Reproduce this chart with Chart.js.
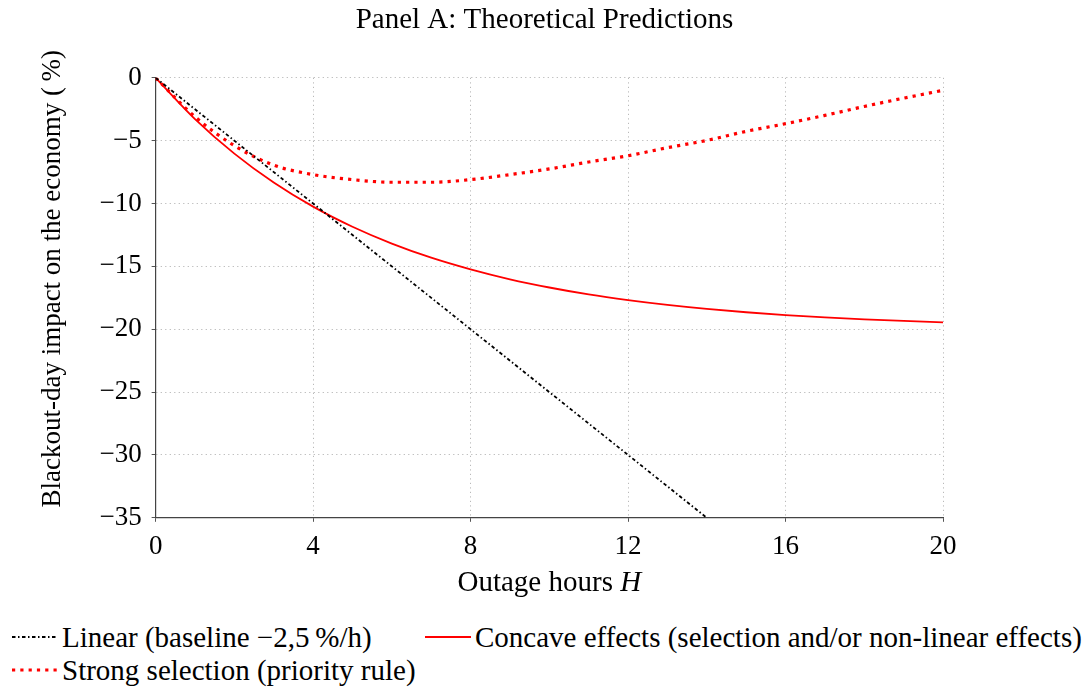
<!DOCTYPE html>
<html>
<head>
<meta charset="utf-8">
<script src="https://cdn.jsdelivr.net/npm/chart.js@4/dist/chart.umd.min.js"></script>
<style>
  html, body { margin: 0; padding: 0; background: #fff; }
  body { width: 1089px; height: 692px; position: relative; overflow: hidden;
         font-family: 'Liberation Serif', 'DejaVu Serif', serif; }
  #wrap { position: absolute; left: 0; top: 0; width: 1089px; height: 612px; }
  .legend-row { position: absolute; left: 0; height: 30px; font-size: 29px;
                color: #000; line-height: 30px; white-space: nowrap; }
  .item { position: absolute; top: 0; display: flex; align-items: center; }
  .item svg { margin-right: 4px; }
</style>
</head>
<body>
<div id="wrap"><canvas id="chart"></canvas></div>
<div id="legend"></div>
<script>
// outage hours
let hours = [0, 1, 2, 3, 4, 5, 6, 7, 8, 9, 10, 11, 12, 13, 14, 15, 16, 17, 18, 19, 20];
let linearHours = [0, 14];
let linearVals = [0, -35];
let concaveVals = [0, -3.28, -6.03, -8.33, -10.25, -11.85, -13.19, -14.31, -15.24, -16.03, -16.68,
  -17.23, -17.68, -18.06, -18.38, -18.65, -18.87, -19.06, -19.21, -19.34, -19.45];
let strongVals = [0, -3.1, -5.4, -6.95, -7.7, -8.1, -8.31, -8.31, -8.1, -7.7, -7.25,
  -6.7, -6.2, -5.56, -4.98, -4.26, -3.65, -2.99, -2.28, -1.62, -1.0];
let xTicks = [0, 4, 8, 12, 16, 20];
let yTicks = [0, -5, -10, -15, -20, -25, -30, -35];
let seriesNames = ['Linear (baseline \u22122,5\u2009%/h)',
  'Concave effects (selection and/or non-linear effects)',
  'Strong selection (priority rule)'];
let titleText = 'Panel A: Theoretical Predictions';
let yTitle = 'Blackout-day impact on the economy (\u2009%)';

function pts(xs, ys) {
  return xs.map(function (x, i) { return { x: x, y: ys[i] }; });
}

let serif = "'Liberation Serif', 'DejaVu Serif', serif";
Chart.defaults.font.family = serif;
Chart.defaults.color = '#000';

let fsTick = 27;
let fsTitle = 29;
let fsY = 27;

// the texts are drawn here so that they sit where the original puts them
let texts = {
  id: 'texts',
  afterDraw: function (c) {
    let g = c.ctx;
    let area = c.chartArea;
    g.save();
    g.fillStyle = '#000';
    g.textBaseline = 'middle';
    g.textAlign = 'center';

    // main title, centred on the page
    g.font = fsTitle + 'px ' + serif;
    let tb = c.titleBlock;
    g.fillText(titleText, c.width / 2, tb.top + fsTitle * 0.6);

    // x title with italic H
    let xs = c.scales.x;
    let cx = (area.left + area.right) / 2;
    let cy = xs.bottom - 29;
    let a = 'Outage hours ';
    let wa = g.measureText(a).width;
    g.font = 'italic ' + fsTitle + 'px ' + serif;
    let wb = g.measureText('H').width;
    let x0 = cx - (wa + wb) / 2;
    g.textAlign = 'left';
    g.font = fsTitle + 'px ' + serif;
    g.fillText(a, x0, cy);
    g.font = 'italic ' + fsTitle + 'px ' + serif;
    g.fillText('H', x0 + wa, cy);

    // y title
    let ys = c.scales.y;
    g.font = fsY + 'px ' + serif;
    g.textAlign = 'center';
    g.translate(ys.left + fsY * 0.6, (area.top + area.bottom) / 2 - 19);
    g.rotate(-Math.PI / 2);
    g.fillText(yTitle, 0, 0);
    g.restore();
  }
};

let chart = new Chart(document.getElementById('chart'), {
  type: 'line',
  data: {
    datasets: [
      {
        label: seriesNames[0],
        data: pts(linearHours, linearVals),
        borderColor: '#000',
        borderWidth: 1.8,
        borderDash: [3.5, 2.5, 1.5, 2.5],
        pointRadius: 0,
        tension: 0
      },
      {
        label: seriesNames[1],
        data: pts(hours, concaveVals),
        borderColor: '#ff0000',
        borderWidth: 1.8,
        pointRadius: 0,
        cubicInterpolationMode: 'monotone'
      },
      {
        label: seriesNames[2],
        data: pts(hours, strongVals),
        borderColor: '#ff0000',
        borderWidth: 3.2,
        borderDash: [3.2, 5.1],
        pointRadius: 0,
        cubicInterpolationMode: 'monotone'
      }
    ]
  },
  options: {
    responsive: true,
    maintainAspectRatio: false,
    animation: false,
    layout: { padding: { left: 37, right: 146, top: 3, bottom: 0 } },
    plugins: {
      title: {
        display: true,
        text: titleText,
        font: { size: fsTitle, weight: 'normal' },
        color: 'rgba(0,0,0,0)',
        padding: { top: 0, bottom: 40 }
      },
      legend: { display: false },
      tooltip: { enabled: false }
    },
    scales: {
      x: {
        type: 'linear',
        min: 0,
        max: 20,
        afterBuildTicks: function (axis) {
          axis.ticks = xTicks.map(function (v) { return { value: v }; });
        },
        ticks: { font: { size: fsTick }, color: '#000', padding: 9, maxRotation: 0 },
        grid: { color: '#b9b9b9', lineWidth: 1, tickLength: 4, tickColor: '#555', tickBorderDash: [] },
        border: { display: true, color: '#444', width: 1.2, dash: [1.2, 3.3] },
        title: {
          display: true,
          text: 'Outage hours H',
          font: { size: fsTitle },
          color: 'rgba(0,0,0,0)',
          padding: { top: 0, bottom: 5 }
        }
      },
      y: {
        type: 'linear',
        min: -35,
        max: 0,
        afterBuildTicks: function (axis) {
          axis.ticks = yTicks.map(function (v) { return { value: v }; });
        },
        ticks: {
          font: { size: fsTick },
          color: '#000',
          padding: 10,
          callback: function (v) { return v < 0 ? '\u2212' + Math.abs(v) : '' + v; }
        },
        grid: { color: '#b9b9b9', lineWidth: 1, tickLength: 4, tickColor: '#555', tickBorderDash: [] },
        border: { display: true, color: '#444', width: 1.2, dash: [1.2, 3.3] },
        title: {
          display: true,
          text: yTitle,
          font: { size: fsY },
          color: 'rgba(0,0,0,0)',
          padding: { top: 0, bottom: 20 }
        }
      }
    }
  },
  plugins: [texts]
});

// legend below the chart, same line styles as the datasets
function sample(ds) {
  let dash = ds.borderDash ? ds.borderDash.join(' ') : 'none';
  return '<svg width="46" height="10"><line x1="0" y1="5" x2="46" y2="5" stroke="' + ds.borderColor +
    '" stroke-width="' + ds.borderWidth + '" stroke-dasharray="' + dash + '"/></svg>';
}
let ds = chart.data.datasets;
let legendLayout = [
  { row: 622, left: 12, i: 0 },
  { row: 622, left: 425, i: 1 },
  { row: 655, left: 12, i: 2 }
];
let html = '';
legendLayout.forEach(function (it) {
  html += '<div class="legend-row" style="top:' + it.row + 'px"><div class="item" style="left:' + it.left + 'px">' +
    sample(ds[it.i]) + '<span>' + seriesNames[it.i] + '</span></div></div>';
});
document.getElementById('legend').innerHTML = html;
</script>
</body>
</html>
